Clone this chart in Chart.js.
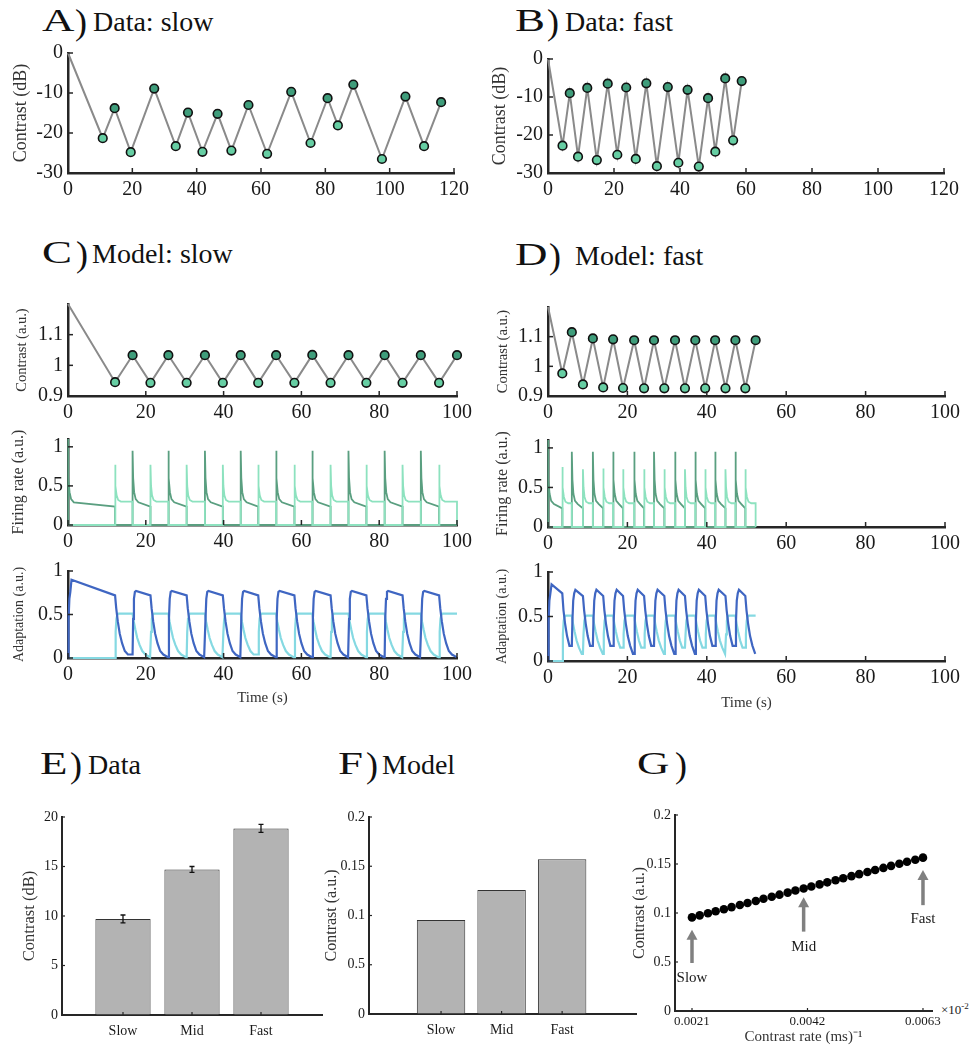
<!DOCTYPE html>
<html><head><meta charset="utf-8">
<script src="https://cdn.jsdelivr.net/npm/chart.js@4.4.1/dist/chart.umd.min.js"></script>
<style>
html,body{margin:0;padding:0;background:#fff;}
body{width:971px;height:1051px;position:relative;overflow:hidden;color:#111;}
*{font-family:"Liberation Serif","Times New Roman","DejaVu Serif",serif;}
canvas{position:absolute;}
.ttl{position:absolute;white-space:nowrap;font-size:38px;line-height:38px;height:38px;}
.ttl span{position:absolute;bottom:0;line-height:1;}
.ttl .L{font-size:31px;transform:scaleX(1.45);transform-origin:left bottom;}
.ttl .P{font-size:36px;bottom:-4px;}
.ttl .T{font-size:28px;}
.exp{position:absolute;font-size:13px;color:#222;}
</style></head><body>
<div class="ttl" style="left:42px;top:-2px"><span class="L" style="left:0">A</span><span class="P" style="left:33px">)</span><span class="T" style="left:51px">Data: slow</span></div>
<div class="ttl" style="left:515px;top:-2px"><span class="L" style="left:0">B</span><span class="P" style="left:32px">)</span><span class="T" style="left:50px">Data: fast</span></div>
<div class="ttl" style="left:42px;top:230px"><span class="L" style="left:0">C</span><span class="P" style="left:34px">)</span><span class="T" style="left:50px">Model: slow</span></div>
<div class="ttl" style="left:515px;top:232px"><span class="L" style="left:0">D</span><span class="P" style="left:34px">)</span><span class="T" style="left:60px">Model: fast</span></div>
<div class="ttl" style="left:40px;top:741px"><span class="L" style="left:0">E</span><span class="P" style="left:30px">)</span><span class="T" style="left:48px">Data</span></div>
<div class="ttl" style="left:338px;top:741px"><span class="L" style="left:0">F</span><span class="P" style="left:28px">)</span><span class="T" style="left:44px">Model</span></div>
<div class="ttl" style="left:637px;top:741px"><span class="L" style="left:0">G</span><span class="P" style="left:38px">)</span></div>
<div class="exp" style="left:941px;top:1001px">×10<sup style="font-size:9px">-2</sup></div>
<script>
const FONT = "'Liberation Serif', 'Times New Roman', serif";
const AX = '#262626';
Chart.defaults.font.family = FONT;
Chart.defaults.color = '#1a1a1a';

// ---------- Panel A / B : data ----------
const aTime = [0, 10.8, 14.5, 19.5, 26.8, 33.5, 37.3, 41.8, 46.5, 50.8, 56.1, 61.9, 69.4, 75.4, 80.7, 83.9, 88.7, 97.6, 104.9, 110.7, 116.0];
const aContrast = [0, -21.3, -13.8, -24.8, -8.9, -23.3, -14.9, -24.7, -15.2, -24.4, -13.0, -25.2, -9.7, -22.5, -11.3, -18.1, -7.9, -26.5, -10.9, -23.3, -12.3];
const bTime = [0, 4.4, 6.6, 9.1, 11.9, 14.8, 18.1, 21.0, 23.7, 26.6, 29.8, 33.0, 36.3, 39.5, 42.3, 45.7, 48.5, 50.7, 53.7, 56.1, 58.7];
const bContrast = [0, -22.8, -9.0, -25.7, -7.6, -26.6, -6.5, -25.2, -7.5, -26.3, -6.4, -28.2, -7.4, -27.3, -8.1, -28.3, -10.3, -24.4, -5.1, -21.4, -5.8];
const abXTicks = [0, 20, 40, 60, 80, 100, 120];
const abYTicks = [-30, -20, -10, 0];

// ---------- Panel C / D : model contrast ----------
const cTime = [0, 12.1, 16.6, 21.2, 25.8, 30.5, 35.2, 39.8, 44.4, 48.9, 53.5, 58.2, 62.8, 67.5, 72.1, 76.7, 81.4, 86.0, 90.7, 95.4, 100];
const cContrast = [1.2, 0.945, 1.033, 0.943, 1.033, 0.943, 1.033, 0.943, 1.033, 0.943, 1.033, 0.943, 1.034, 0.943, 1.033, 0.943, 1.033, 0.943, 1.033, 0.943, 1.033];
const dTime = [0, 3.6, 6.0, 8.8, 11.3, 13.9, 16.4, 18.9, 21.7, 24.2, 26.7, 29.3, 32.0, 34.5, 37.1, 39.6, 42.1, 44.7, 47.2, 49.7, 52.3];
const dContrast = [1.2, 0.976, 1.115, 0.939, 1.094, 0.929, 1.091, 0.927, 1.088, 0.926, 1.088, 0.926, 1.088, 0.926, 1.088, 0.926, 1.088, 0.926, 1.088, 0.926, 1.088];
const cdXTicks = [0, 20, 40, 60, 80, 100];
const contrastYTicks = [0.9, 1, 1.1];
const rateYTicks = [0, 0.5, 1];

// onset / offset times of the two populations
const slowLightOn  = [12.1, 21.2, 30.5, 39.8, 48.9, 58.2, 67.5, 76.7, 86.0, 95.4];
const slowLightOff = [16.6, 25.8, 35.2, 44.4, 53.5, 62.8, 72.1, 81.4, 90.7, 100];
const slowDarkOn   = [0, 16.6, 25.8, 35.2, 44.4, 53.5, 62.8, 72.1, 81.4, 90.7];
const slowDarkOff  = [12.1, 21.2, 30.5, 39.8, 48.9, 58.2, 67.5, 76.7, 86.0, 95.4];
const fastLightOn  = [3.6, 8.8, 13.9, 18.9, 24.2, 29.3, 34.5, 39.6, 44.7, 49.7];
const fastLightOff = [6.0, 11.3, 16.4, 21.7, 26.7, 32.0, 37.1, 42.1, 47.2, 52.3];
const fastDarkOn   = [0, 6.0, 11.3, 16.4, 21.7, 26.7, 32.0, 37.1, 42.1, 47.2];
const fastDarkOff  = [3.6, 8.8, 13.9, 18.9, 24.2, 29.3, 34.5, 39.6, 44.7, 49.7];

// firing rate: peaks and decay shape
const slowDarkFirePeak  = [1.1, 0.95, 0.95, 0.95, 0.95, 0.95, 0.95, 0.95, 0.95, 0.95];
const slowLightFirePeak = [0.77, 0.77, 0.77, 0.77, 0.77, 0.77, 0.77, 0.77, 0.77, 0.77];
const fastDarkFirePeak  = [1.1, 0.95, 0.95, 0.95, 0.95, 0.95, 0.95, 0.95, 0.95, 0.95];
const fastLightFirePeak = [0.76, 0.73, 0.74, 0.73, 0.73, 0.73, 0.73, 0.73, 0.73, 0.73];
const fireDecayDt   = [0.15, 0.4, 0.8, 1.5];
const darkFireDecay = [0.6, 0.42, 0.33, 0.29];
const lightFireDecay = [0.5, 0.38, 0.32, 0.30];
const darkFireEnd = 0.235;
const lightFireEnd = 0.30;

// adaptation: peaks, ends and shapes
const adaptRiseDt = [0.15, 0.35, 0.6, 0.9];
const blueRise = [0.45, 0.68, 0.76];
const cyanRise = [0.3, 0.45, 0.5];
const slowBluePeak = [0.9, 0.77, 0.77, 0.77, 0.77, 0.77, 0.77, 0.77, 0.77, 0.77];
const slowBlueEnd  = [0.72, 0.72, 0.72, 0.72, 0.72, 0.72, 0.72, 0.72, 0.72, 0.72];
const fastBluePeak = [0.86, 0.8, 0.8, 0.8, 0.8, 0.8, 0.8, 0.8, 0.8, 0.8];
const fastBlueEnd  = [0.76, 0.73, 0.73, 0.73, 0.73, 0.73, 0.73, 0.73, 0.73, 0.73];
const cyanPeak = [0.51, 0.51, 0.51, 0.51, 0.51, 0.51, 0.51, 0.51, 0.51, 0.51];
const adaptDecayDt = [0.3, 0.7, 1.2, 1.8, 2.5, 3.3, 4.5];
const blueDecay = [0.57, 0.42, 0.28, 0.17, 0.08, 0.04, 0.01];
const cyanDecay = [0.42, 0.33, 0.23, 0.15, 0.08, 0.04, 0.01];

// ---------- Panel E / F / G ----------
const barCats = ['Slow', 'Mid', 'Fast'];
const barPos = [1, 2, 3];
const eContrast = [9.7, 14.7, 18.85];
const eError = [0.4, 0.3, 0.4];
const eYTicks = [0, 5, 10, 15, 20];
const fContrast = [0.0955, 0.126, 0.157];
const fgYTicks = [0, 0.05, 0.1, 0.15, 0.2];
const fgYTickLabels = ['0', '0.5', '0.1', '0.15', '0.2'];
const gRate = [0.00210, 0.00224, 0.00239, 0.00253, 0.00268, 0.00282, 0.00297, 0.00311, 0.00326, 0.00340,
               0.00355, 0.00369, 0.00384, 0.00398, 0.00413, 0.00427, 0.00442, 0.00456, 0.00471, 0.00485,
               0.00500, 0.00514, 0.00529, 0.00543, 0.00558, 0.00572, 0.00587, 0.00601, 0.00616, 0.00630];
const gContrast = [0.0955, 0.0976, 0.0997, 0.1018, 0.1039, 0.1060, 0.1081, 0.1102, 0.1123, 0.1145,
                   0.1166, 0.1187, 0.1208, 0.1229, 0.1250, 0.1271, 0.1292, 0.1313, 0.1334, 0.1355,
                   0.1376, 0.1397, 0.1418, 0.1439, 0.1460, 0.1481, 0.1502, 0.1523, 0.1544, 0.1565];
const gXTicks = [0.0021, 0.0042, 0.0063];
const gArrowX = [0.0021, 0.00413, 0.0063];
const gArrowTail = [0.049, 0.081, 0.108];
const gArrowHead = [0.083, 0.116, 0.144];
const gArrowLabelY = [0.034, 0.065, 0.094];
const gArrowLabels = ['Slow', 'Mid', 'Fast'];

// ---------- colours ----------
const LINE_GRAY = '#8a8a8a';
const MK_DARK = '#3f9d7b', MK_LIGHT = '#66cea3';
const FIRE_DARK = '#5a9f80', FIRE_LIGHT = '#8de2bf';
const AD_BLUE = '#3f66c2', AD_CYAN = '#85d9e2';

// ---------- builders (assemble the read values into point lists) ----------
function xy(xs, ys) { return xs.map((x, i) => ({ x, y: ys[i] })); }
function buildFire(on, off, peaks, decayV, endV, tEnd) {
  const pts = [{ x: 0, y: 0 }];
  for (let i = 0; i < on.length; i++) {
    const t0 = on[i];
    if (t0 > 0) pts.push({ x: t0, y: 0 });
    pts.push({ x: t0, y: peaks[i] });
    fireDecayDt.forEach((d, j) => { if (t0 + d < off[i]) pts.push({ x: t0 + d, y: decayV[j] }); });
    pts.push({ x: off[i], y: endV });
    pts.push({ x: off[i], y: 0 });
  }
  if (off[off.length - 1] < tEnd) pts.push({ x: tEnd, y: 0 });
  return pts;
}
function buildAdapt(on, off, riseV, peaks, ends, decayV, tEnd) {
  const pts = [{ x: 0, y: 0 }];
  for (let i = 0; i < on.length; i++) {
    const t0 = on[i];
    const last = pts[pts.length - 1];
    if (t0 > last.x) pts.push({ x: t0, y: last.y });
    adaptRiseDt.forEach((d, j) => pts.push({ x: t0 + d, y: j === adaptRiseDt.length - 1 ? peaks[i] : riseV[j] }));
    pts.push({ x: off[i], y: ends[i] });
    const next = i + 1 < on.length ? on[i + 1] : tEnd;
    adaptDecayDt.forEach((d, j) => { if (off[i] + d < next) pts.push({ x: off[i] + d, y: decayV[j] }); });
  }
  return pts;
}

// ---------- plugins ----------
const inward = {
  id: 'inward',
  afterDatasetsDraw(chart, args, o) {
    const len = o.len || 5;
    const { x, y } = chart.scales;
    const ctx = chart.ctx;
    ctx.save(); ctx.strokeStyle = AX; ctx.lineWidth = o.w || 1.5;
    x.ticks.forEach(t => { const p = x.getPixelForValue(t.value); ctx.beginPath(); ctx.moveTo(p, y.bottom); ctx.lineTo(p, y.bottom - len); ctx.stroke(); });
    y.ticks.forEach(t => { const p = y.getPixelForValue(t.value); ctx.beginPath(); ctx.moveTo(x.left, p); ctx.lineTo(x.left + len, p); ctx.stroke(); });
    ctx.restore();
  }
};
const errBars = {
  id: 'errBars',
  afterDatasetsDraw(chart, args, o) {
    if (!o.err) return;
    const { x, y } = chart.scales; const ctx = chart.ctx;
    ctx.save(); ctx.strokeStyle = '#111'; ctx.lineWidth = 1.3;
    o.pos.forEach((p, i) => {
      const px = x.getPixelForValue(p);
      const lo = y.getPixelForValue(o.val[i] - o.err[i]), hi = y.getPixelForValue(o.val[i] + o.err[i]);
      ctx.beginPath(); ctx.moveTo(px, lo); ctx.lineTo(px, hi);
      ctx.moveTo(px - 2.5, lo); ctx.lineTo(px + 2.5, lo);
      ctx.moveTo(px - 2.5, hi); ctx.lineTo(px + 2.5, hi); ctx.stroke();
    });
    ctx.restore();
  }
};
const arrows = {
  id: 'arrows',
  afterDatasetsDraw(chart, args, o) {
    if (!o.x) return;
    const { x, y } = chart.scales; const ctx = chart.ctx;
    ctx.save();
    o.x.forEach((v, i) => {
      const px = x.getPixelForValue(v);
      const pt = y.getPixelForValue(o.tail[i]), ph = y.getPixelForValue(o.head[i]);
      ctx.strokeStyle = '#808080'; ctx.fillStyle = '#808080'; ctx.lineWidth = 3.5;
      ctx.beginPath(); ctx.moveTo(px, pt); ctx.lineTo(px, ph + 9); ctx.stroke();
      ctx.beginPath(); ctx.moveTo(px - 5.5, ph + 10); ctx.lineTo(px + 5.5, ph + 10); ctx.lineTo(px, ph); ctx.closePath(); ctx.fill();
      ctx.fillStyle = '#1a1a1a'; ctx.font = '15px ' + FONT; ctx.textAlign = 'center'; ctx.textBaseline = 'middle';
      ctx.fillText(o.labels[i], px, y.getPixelForValue(o.labelY[i]));
    });
    ctx.restore();
  }
};

// ---------- layout helper ----------
function mk(rect, yW, xH, cfg, padR, padT) {
  padR = padR || 30; padT = padT || 14;
  const c = document.createElement('canvas');
  const left = rect.l - yW, top = rect.t - padT;
  const w = rect.r - rect.l + yW + padR, h = rect.b - rect.t + padT + xH;
  c.width = w; c.height = h;
  c.style.left = left + 'px'; c.style.top = top + 'px'; c.style.width = w + 'px'; c.style.height = h + 'px';
  document.body.appendChild(c);
  cfg.options.responsive = false;
  cfg.options.animation = false;
  cfg.options.devicePixelRatio = 1;
  cfg.options.layout = { padding: { left: 0, top: padT, right: padR, bottom: 0 } };
  cfg.options.plugins = Object.assign({ legend: { display: false }, tooltip: { enabled: false } }, cfg.options.plugins || {});
  cfg.options.scales.x.afterFit = s => { s.height = xH; s.paddingLeft = 0; s.paddingRight = 0; };
  cfg.options.scales.y.afterFit = s => { s.width = yW; s.paddingTop = 0; s.paddingBottom = 0; };
  cfg.plugins = [inward, errBars, arrows];
  return new Chart(c, cfg);
}
function axis(min, max, ticks, opt) {
  opt = opt || {};
  const a = {
    type: 'linear', min, max, offset: false,
    afterBuildTicks: s => { s.ticks = ticks.map(v => ({ value: v })); },
    grid: { display: true, drawOnChartArea: false, drawTicks: false },
    border: { display: true, color: AX, width: opt.bw || 2.5 },
    ticks: {
      padding: opt.pad || 5, color: '#1a1a1a',
      font: { size: opt.fs || 20, family: FONT },
      callback: opt.labels ? (v, i) => opt.labels[i] : (v => String(v))
    }
  };
  if (opt.title) a.title = { display: true, text: opt.title, padding: 0, color: '#333', font: { size: opt.tfs || 15, family: FONT } };
  return a;
}
function contrastLine(xs, ys) {
  return {
    data: xy(xs, ys), borderColor: LINE_GRAY, borderWidth: 2, clip: false,
    pointRadius: ys.map((v, i) => i === 0 ? 0 : 4.3),
    pointBackgroundColor: ys.map((v, i) => i % 2 === 1 ? MK_LIGHT : MK_DARK),
    pointBorderColor: '#111', pointBorderWidth: 1.6, tension: 0
  };
}
function trace(pts, color, w) {
  return { data: pts, borderColor: color, borderWidth: w, pointRadius: 0, clip: false, tension: 0 };
}

// A
mk({ l: 68, r: 454, t: 53, b: 173 }, 58, 32, {
  type: 'line', data: { datasets: [contrastLine(aTime, aContrast)] },
  options: { plugins: { inward: { len: 5 } }, scales: {
    x: axis(0, 120, abXTicks, { fs: 20 }),
    y: axis(-30, 0, abYTicks, { fs: 20, title: 'Contrast (dB)', tfs: 18 }) } }
});
// B
mk({ l: 548, r: 944, t: 59, b: 173 }, 59, 32, {
  type: 'line', data: { datasets: [contrastLine(bTime, bContrast)] },
  options: { plugins: { inward: { len: 5 } }, scales: {
    x: axis(0, 120, abXTicks, { fs: 20 }),
    y: axis(-30, 0, abYTicks, { fs: 20, title: 'Contrast (dB)', tfs: 18 }) } }
});
// C top
mk({ l: 68, r: 457, t: 304, b: 396 }, 55, 28, {
  type: 'line', data: { datasets: [contrastLine(cTime, cContrast)] },
  options: { plugins: { inward: { len: 5 } }, scales: {
    x: axis(0, 100, cdXTicks, { fs: 20 }),
    y: axis(0.9, 1.2, contrastYTicks, { fs: 20, title: 'Contrast (a.u.)', tfs: 14.5 }) } }
});
// D top
mk({ l: 548, r: 945, t: 307, b: 396 }, 54, 28, {
  type: 'line', data: { datasets: [contrastLine(dTime, dContrast)] },
  options: { plugins: { inward: { len: 5 } }, scales: {
    x: axis(0, 100, cdXTicks, { fs: 20 }),
    y: axis(0.9, 1.2, contrastYTicks, { fs: 20, title: 'Contrast (a.u.)', tfs: 14.5 }) } }
});
// C firing
mk({ l: 68, r: 457, t: 439, b: 525 }, 59, 28, {
  type: 'line', data: { datasets: [
    trace(buildFire(slowLightOn, slowLightOff, slowLightFirePeak, lightFireDecay, lightFireEnd, 100), FIRE_LIGHT, 1.8),
    trace(buildFire(slowDarkOn, slowDarkOff, slowDarkFirePeak, darkFireDecay, darkFireEnd, 100), FIRE_DARK, 1.8)] },
  options: { plugins: { inward: { len: 5 } }, scales: {
    x: axis(0, 100, cdXTicks, { fs: 20 }),
    y: axis(0, 1.1, rateYTicks, { fs: 20, title: 'Firing rate (a.u.)', tfs: 16 }) } }
});
// D firing
mk({ l: 548, r: 945, t: 440, b: 527 }, 55, 28, {
  type: 'line', data: { datasets: [
    trace(buildFire(fastLightOn, fastLightOff, fastLightFirePeak, lightFireDecay, lightFireEnd, 52.3), FIRE_LIGHT, 1.8),
    trace(buildFire(fastDarkOn, fastDarkOff, fastDarkFirePeak, darkFireDecay, darkFireEnd, 52.3), FIRE_DARK, 1.8)] },
  options: { plugins: { inward: { len: 5 } }, scales: {
    x: axis(0, 100, cdXTicks, { fs: 20 }),
    y: axis(0, 1.1, rateYTicks, { fs: 20, title: 'Firing rate (a.u.)', tfs: 16 }) } }
});
// C adaptation
mk({ l: 68, r: 457, t: 571, b: 658 }, 57, 49, {
  type: 'line', data: { datasets: [
    trace(buildAdapt(slowDarkOn, slowDarkOff, blueRise, slowBluePeak, slowBlueEnd, blueDecay, 100), AD_BLUE, 2.2),
    trace(buildAdapt(slowLightOn, slowLightOff, cyanRise, cyanPeak, cyanPeak, cyanDecay, 100), AD_CYAN, 2.2)] },
  options: { plugins: { inward: { len: 5 } }, scales: {
    x: axis(0, 100, cdXTicks, { fs: 20, title: 'Time (s)', tfs: 15 }),
    y: axis(0, 1, rateYTicks, { fs: 20, title: 'Adaptation (a.u.)', tfs: 14 }) } }
});
// D adaptation
mk({ l: 548, r: 945, t: 572, b: 661 }, 54, 51, {
  type: 'line', data: { datasets: [
    trace(buildAdapt(fastDarkOn, fastDarkOff, blueRise, fastBluePeak, fastBlueEnd, blueDecay, 52.3), AD_BLUE, 2.2),
    trace(buildAdapt(fastLightOn, fastLightOff, cyanRise, cyanPeak, cyanPeak, cyanDecay, 52.3), AD_CYAN, 2.2)] },
  options: { plugins: { inward: { len: 5 } }, scales: {
    x: axis(0, 100, cdXTicks, { fs: 20, title: 'Time (s)', tfs: 15 }),
    y: axis(0, 1, rateYTicks, { fs: 20, title: 'Adaptation (a.u.)', tfs: 14 }) } }
});
// E
function bars(vals) {
  return { data: xy(barPos, vals), backgroundColor: '#b3b3b3', borderColor: '#333', borderWidth: 1,
           barPercentage: 0.8, categoryPercentage: 1 };
}
mk({ l: 62, r: 322, t: 817, b: 1015 }, 42, 30, {
  type: 'bar', data: { datasets: [bars(eContrast)] },
  options: { plugins: { inward: { len: 3, w: 1.2 }, errBars: { pos: barPos, val: eContrast, err: eError } }, scales: {
    x: axis(0.116, 3.884, barPos, { fs: 14, labels: barCats, pad: 8, bw: 2 }),
    y: axis(0, 20, eYTicks, { fs: 14, title: 'Contrast (dB)', tfs: 16.5, bw: 2, pad: 4 }) } }
});
// F
mk({ l: 369, r: 636, t: 817, b: 1014 }, 47, 30, {
  type: 'bar', data: { datasets: [bars(fContrast)] },
  options: { plugins: { inward: { len: 3, w: 1.2 } }, scales: {
    x: axis(-0.19, 4.22, barPos, { fs: 14, labels: barCats, pad: 8, bw: 2 }),
    y: axis(0, 0.2, fgYTicks, { fs: 14, labels: fgYTickLabels, title: 'Contrast (a.u.)', tfs: 16, bw: 2, pad: 4 }) } }
});
// G
mk({ l: 675, r: 932, t: 815, b: 1011 }, 45, 35, {
  type: 'scatter', data: { datasets: [{ data: xy(gRate, gContrast), backgroundColor: '#000', borderColor: '#000',
    pointRadius: 4.3, borderWidth: 0, clip: false }] },
  options: { plugins: { inward: { len: 3, w: 1.2 },
      arrows: { x: gArrowX, tail: gArrowTail, head: gArrowHead, labelY: gArrowLabelY, labels: gArrowLabels } },
    scales: {
    x: axis(0.001791, 0.006464, gXTicks, { fs: 13, pad: 3, bw: 2, title: 'Contrast rate (ms)⁻¹', tfs: 15 }),
    y: axis(0, 0.2, fgYTicks, { fs: 14, labels: fgYTickLabels, title: 'Contrast (a.u.)', tfs: 16, bw: 2, pad: 4 }) } }
});
</script>
</body></html>
